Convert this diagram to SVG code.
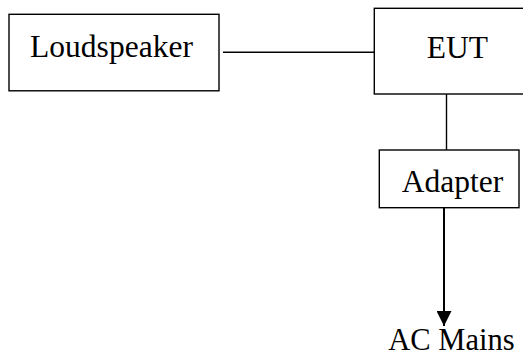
<svg xmlns="http://www.w3.org/2000/svg" width="523" height="356" viewBox="0 0 523 356">
  <style>
    .box { fill: #ffffff; stroke: #000000; stroke-width: 1.4; }
    .label { font-family: "Liberation Serif", "Times New Roman", serif; font-size: 31.5px; fill: #000000; }
    .wire { stroke: #000000; stroke-width: 1.4; fill: none; }
    .feed { stroke: #000000; stroke-width: 2; fill: none; }
  </style>
  <defs>
    <marker id="arrow" markerUnits="userSpaceOnUse" markerWidth="16" markerHeight="15" refX="15" refY="7.5" orient="auto">
      <path d="M0,0 L15,7.5 L0,15 Z" fill="#000000"/>
    </marker>
  </defs>
  <rect width="523" height="356" fill="#ffffff"/>

  <g id="connectors">
    <line class="wire" x1="223" y1="52.3" x2="374" y2="52.3"/>
    <line class="wire" x1="446.5" y1="94" x2="446.5" y2="150"/>
    <line class="feed" x1="444" y1="208" x2="444" y2="326" marker-end="url(#arrow)"/>
  </g>

  <g id="loudspeaker">
    <rect class="box" x="9" y="14.3" width="210" height="76.5"/>
    <text class="label" x="30" y="56.7" textLength="163">Loudspeaker</text>
  </g>

  <g id="eut">
    <rect class="box" x="374.3" y="8.3" width="160" height="85.7"/>
    <text class="label" x="426.7" y="58.3">EUT</text>
  </g>

  <g id="adapter">
    <rect class="box" x="379.3" y="150" width="139.7" height="57.7"/>
    <text class="label" x="401.7" y="191.7">Adapter</text>
  </g>

  <g id="ac-mains">
    <text class="label" x="388.3" y="350" style="font-size:30.5px">AC Mains</text>
  </g>
</svg>
